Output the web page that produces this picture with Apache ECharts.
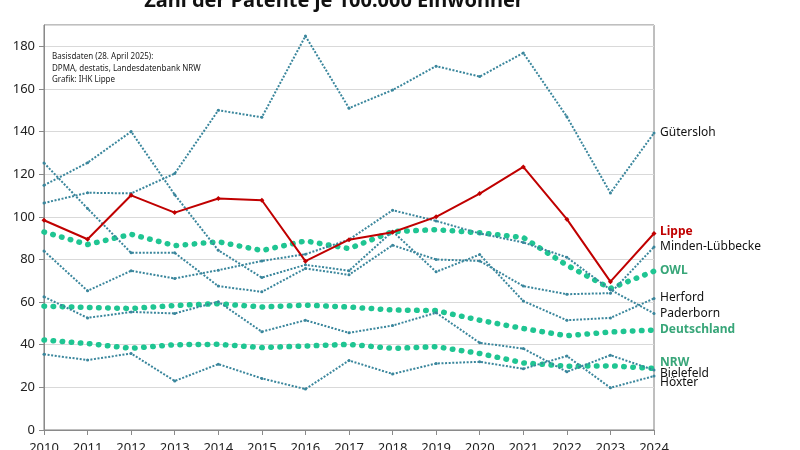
<!DOCTYPE html>
<html>
<head>
<meta charset="utf-8">
<script src="https://cdn.jsdelivr.net/npm/echarts@6/dist/echarts.min.js"></script>
<style>
html,body{margin:0;padding:0;background:#fff;}
#chart{width:800px;height:450px;}
</style>
</head>
<body>
<div id="chart"></div>
<script>
const years = ['2010','2011','2012','2013','2014','2015','2016','2017','2018','2019','2020','2021','2022','2023','2024'];
const guetersloh = [106.5, 111.3, 111, 120.3, 150, 146.7, 184.8, 151, 159.5, 170.7, 165.8, 176.9, 147, 111.2, 139.3];
const lippe = [98.4, 89.5, 110.1, 102, 108.6, 107.8, 79.2, 89.3, 92.8, 100, 110.9, 123.4, 98.9, 69.6, 92.2];
const minden = [125.3, 103.9, 83.1, 83.1, 67.5, 64.8, 75.8, 72.8, 86.7, 80, 79.3, 67.5, 63.7, 64.2, 85.9];
const herford = [114.8, 125.4, 140, 110.4, 84.3, 71.5, 77.5, 74.7, 93.2, 74.2, 82.3, 60.5, 51.5, 52.6, 61.7];
const paderborn = [84, 65.3, 74.7, 71.1, 75, 79.3, 82.5, 89.3, 103.1, 98.1, 92.2, 88, 81, 65.8, 54.7];
const bielefeld = [62.5, 52.6, 55.4, 54.7, 60.2, 46.1, 51.5, 45.6, 49, 55, 40.9, 38.2, 27.3, 35.1, 28.1];
const hoexter = [35.5, 32.8, 35.9, 23.0, 30.9, 24.2, 19.2, 32.6, 26.3, 31.2, 32, 28.7, 34.7, 19.8, 25.3];
const owl = [92.9, 87, 91.8, 86.5, 88.3, 84.2, 88.7, 85.1, 93.1, 94, 92.5, 90.3, 77.3, 66.4, 74.5];
const deutschland = [58.1, 57.5, 57, 58.4, 59.3, 57.7, 58.6, 57.7, 56.3, 56, 51.5, 47.6, 44.2, 46, 46.9];
const nrw = [42.2, 40.6, 38.3, 40, 40.2, 38.7, 39.4, 40.2, 38.3, 39.1, 35.9, 31.5, 29.9, 30.1, 28.9];

const FONT = '"Noto Sans", "Open Sans", sans-serif';
const TEAL = '#3a869c';
const GREEN = '#1fc592';
const GREEN_TXT = '#38a679';
const RED = '#c00000';

function teal(name, data, dy) {
  return {
    name, type: 'line', data, z: 3,
    symbol: 'circle', symbolSize: 3, showSymbol: true,
    itemStyle: { color: TEAL },
    lineStyle: { color: TEAL, width: 2, type: [2, 1.6] },
    endLabel: { show: true, formatter: name, color: '#111', fontSize: 12, fontFamily: FONT, distance: 6, offset: [0, dy] }
  };
}
function green(name, data, dy) {
  return {
    name, type: 'line', data, z: 2,
    symbol: 'none',
    lineStyle: { color: GREEN, width: 5.5, type: [0.5, 8.6], cap: 'round' },
    endLabel: { show: true, formatter: name, color: GREEN_TXT, fontWeight: 'bold', fontSize: 12, fontFamily: FONT, distance: 6, offset: [0, dy] }
  };
}

const chart = echarts.init(document.getElementById('chart'));
chart.setOption({
  animation: false,
  backgroundColor: '#fff',
  title: {
    text: 'Zahl der Patente je 100.000 Einwohner',
    left: 329, top: -14, textAlign: 'center',
    textStyle: { fontSize: 20, fontWeight: 'bold', color: '#111', fontFamily: FONT }
  },
  graphic: [{
    type: 'text', left: 52, top: 51,
    style: {
      text: 'Basisdaten (28. April 2025):\nDPMA, destatis, Landesdatenbank NRW\nGrafik: IHK Lippe',
      font: '8px ' + FONT, fill: '#222', lineHeight: 11.5
    }
  }],
  grid: { left: 44, right: 146, top: 25, bottom: 20, show: true, borderColor: '#7f7f7f', borderWidth: 1, outerBoundsMode: 'none', containLabel: false },
  xAxis: {
    type: 'category', data: years, boundaryGap: false,
    axisLine: { lineStyle: { color: '#8a8a8a' } },
    axisTick: { show: true, alignWithLabel: true, length: 5, lineStyle: { color: '#8a8a8a' } },
    axisLabel: { color: '#222', fontSize: 13, fontFamily: FONT, margin: 12 },
    splitLine: { show: false }
  },
  yAxis: {
    type: 'value', min: 0, max: 190, interval: 20,
    axisLine: { show: true, lineStyle: { color: '#8a8a8a' } },
    axisTick: { show: true, length: 5, lineStyle: { color: '#8a8a8a' } },
    axisLabel: { color: '#222', fontSize: 13, fontFamily: FONT, margin: 9, showMaxLabel: false },
    splitLine: { lineStyle: { color: '#d9d9d9', width: 1 } }
  },
  series: [
    green('OWL', owl, -1),
    green('Deutschland', deutschland, 0),
    green('NRW', nrw, -6),
    teal('Gütersloh', guetersloh, 0),
    teal('Minden-Lübbecke', minden, 0),
    teal('Herford', herford, -1),
    teal('Paderborn', paderborn, 0),
    teal('Bielefeld', bielefeld, 3),
    teal('Höxter', hoexter, 7),
    {
      name: 'Lippe', type: 'line', data: lippe, z: 5,
      symbol: 'diamond', symbolSize: 5,
      itemStyle: { color: RED },
      lineStyle: { color: RED, width: 2 },
      endLabel: { show: true, formatter: 'Lippe', color: RED, fontWeight: 'bold', fontSize: 12, fontFamily: FONT, distance: 6, offset: [0, -2] }
    }
  ]
});
</script>
</body>
</html>
